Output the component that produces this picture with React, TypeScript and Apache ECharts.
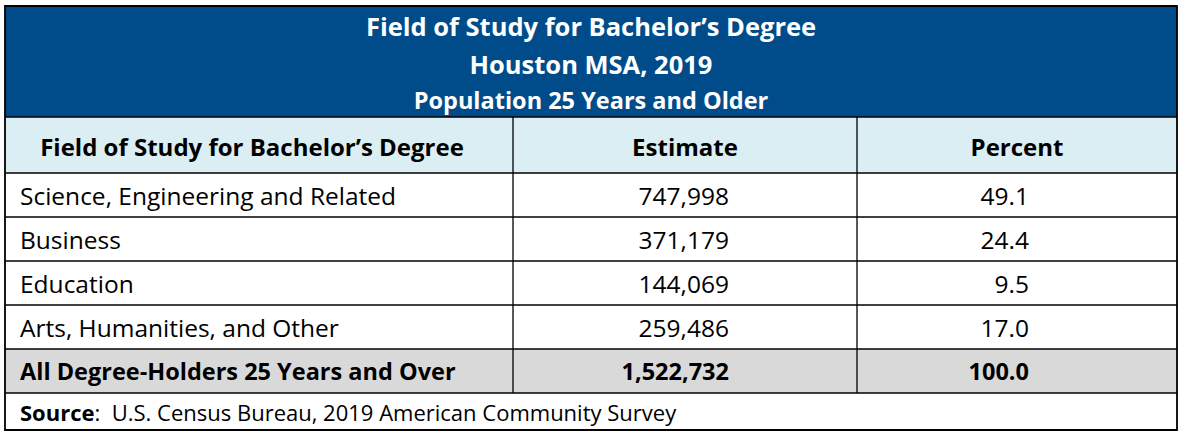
import React, { useEffect, useRef } from "react";
import * as echarts from "echarts";

const titleLines = ["Field of Study for Bachelor’s Degree", "Houston MSA, 2019", "Population 25 Years and Older"];
const columnHeaders = ["Field of Study for Bachelor’s Degree", "Estimate", "Percent"];
const fields = ["Science, Engineering and Related", "Business", "Education", "Arts, Humanities, and Other"];
const estimates = [747998, 371179, 144069, 259486];
const percents = [49.1, 24.4, 9.5, 17.0];
const totalLabel = "All Degree-Holders 25 Years and Over";
const totalEstimate = 1522732;
const totalPercent = 100.0;
const sourceLabel = "Source";
const sourceText = ":  U.S. Census Bureau, 2019 American Community Survey";

const FONT = "Open Sans";
const BLUE = "#004C8A";
const LIGHT = "#DAEEF3";
const GRAY = "#D9D9D9";

const L = 5, R = 1177;
const TOP = 6, HEAD_END = 117, COLH_END = 173, ROW_H = 44, SRC_END = 430;
const C1 = 513, C2 = 857;
const EST_RIGHT = 729, PCT_RIGHT = 1029;

function fmt(n: number) {
  return n.toLocaleString("en-US");
}

function buildGraphic() {
  const els: any[] = [];
  const totalTop = COLH_END + ROW_H * fields.length;
  const totalBottom = totalTop + ROW_H;
  els.push({ type: "rect", shape: { x: L, y: TOP, width: R - L, height: HEAD_END - TOP }, style: { fill: BLUE } });
  els.push({ type: "rect", shape: { x: L, y: HEAD_END, width: R - L, height: COLH_END - HEAD_END }, style: { fill: LIGHT } });
  els.push({ type: "rect", shape: { x: L, y: totalTop, width: R - L, height: ROW_H }, style: { fill: GRAY } });

  const titleY = [26, 64, 100];
  const titleSize = [25.5, 25.5, 23.5];
  titleLines.forEach((t, i) => {
    els.push({
      type: "text", x: (L + R) / 2, y: titleY[i],
      style: { text: t, fill: "#fff", font: `bold ${titleSize[i]}px ${FONT}`, textAlign: "center", textVerticalAlign: "middle" },
    });
  });

  const hy = (HEAD_END + COLH_END) / 2 + 1;
  const colCenters = [(L + C1) / 2 - 7, (C1 + C2) / 2, (C2 + R) / 2];
  columnHeaders.forEach((t, i) => {
    els.push({
      type: "text", x: colCenters[i], y: hy,
      style: { text: t, fill: "#000", font: `bold 24px ${FONT}`, textAlign: "center", textVerticalAlign: "middle" },
    });
  });

  fields.forEach((f, i) => {
    const cy = COLH_END + ROW_H * i + ROW_H / 2;
    els.push({ type: "text", x: 20, y: cy, style: { text: f, fill: "#000", font: `24.5px ${FONT}`, textAlign: "left", textVerticalAlign: "middle" } });
    els.push({ type: "text", x: EST_RIGHT, y: cy, style: { text: fmt(estimates[i]), fill: "#000", font: `24.5px ${FONT}`, textAlign: "right", textVerticalAlign: "middle" } });
    els.push({ type: "text", x: PCT_RIGHT, y: cy, style: { text: percents[i].toFixed(1), fill: "#000", font: `24.5px ${FONT}`, textAlign: "right", textVerticalAlign: "middle" } });
  });

  const ty = totalTop + ROW_H / 2;
  els.push({ type: "text", x: 20, y: ty, style: { text: totalLabel, fill: "#000", font: `bold 23.5px ${FONT}`, textAlign: "left", textVerticalAlign: "middle" } });
  els.push({ type: "text", x: EST_RIGHT, y: ty, style: { text: fmt(totalEstimate), fill: "#000", font: `bold 23.5px ${FONT}`, textAlign: "right", textVerticalAlign: "middle" } });
  els.push({ type: "text", x: PCT_RIGHT, y: ty, style: { text: totalPercent.toFixed(1), fill: "#000", font: `bold 23.5px ${FONT}`, textAlign: "right", textVerticalAlign: "middle" } });

  const sy = (totalBottom + SRC_END) / 2;
  els.push({
    type: "text", x: 20, y: sy,
    style: {
      text: `{b|${sourceLabel}}{r|${sourceText}}`,
      textVerticalAlign: "middle",
      rich: {
        b: { fontFamily: FONT, fontWeight: "bold", fontSize: 22, fill: "#000" },
        r: { fontFamily: FONT, fontSize: 22, fill: "#000" },
      },
    },
  });

  const hLines = [HEAD_END, COLH_END];
  for (let i = 1; i <= fields.length + 1; i++) hLines.push(COLH_END + ROW_H * i);
  hLines.forEach((y) => {
    els.push({ type: "line", shape: { x1: L, y1: y, x2: R, y2: y }, style: { stroke: "#000", lineWidth: 1.3 } });
  });
  [C1, C2].forEach((x) => {
    els.push({ type: "line", shape: { x1: x, y1: HEAD_END, x2: x, y2: totalBottom }, style: { stroke: "#000", lineWidth: 1.3 } });
  });
  els.push({ type: "rect", shape: { x: L, y: TOP, width: R - L, height: SRC_END - TOP }, style: { fill: "none", stroke: "#000", lineWidth: 1.8 } });
  return els;
}

export default function App() {
  const ref = useRef<HTMLDivElement>(null);
  useEffect(() => {
    if (!ref.current) return;
    const chart = echarts.init(ref.current, null, { renderer: "svg" });
    chart.setOption({
      animation: false,
      backgroundColor: "#fff",
      graphic: { elements: buildGraphic() },
    });
    return () => chart.dispose();
  }, []);
  return <div ref={ref} style={{ position: "fixed", left: 0, top: 0, width: 1186, height: 439 }} />;
}
